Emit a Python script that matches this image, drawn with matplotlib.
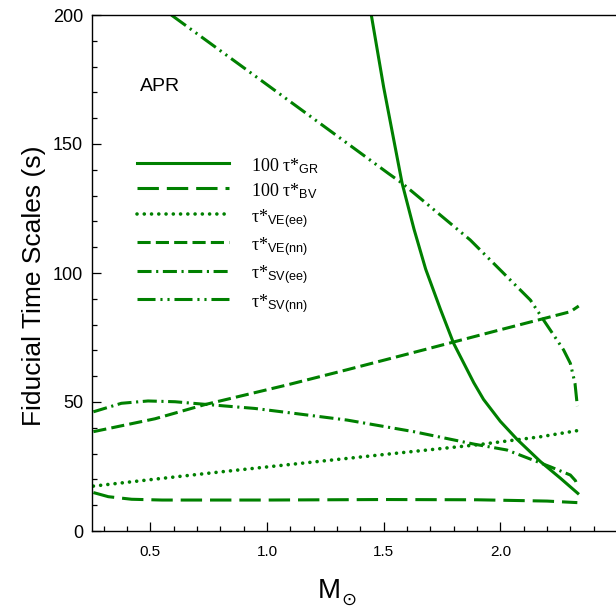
import matplotlib
matplotlib.use("Agg")
import matplotlib.pyplot as plt
from matplotlib.ticker import MultipleLocator, FixedLocator, FormatStrFormatter

# Fiducial time scales versus stellar mass for the APR equation of state
mass_gr = [1.447, 1.50, 1.579, 1.63, 1.68, 1.743, 1.80, 1.886, 1.928, 2.0, 2.072, 2.172, 2.257, 2.332]
tau_gr = [200.0, 172.0, 134.8, 117.0, 101.5, 86.0, 72.7, 57.5, 51.0, 42.5, 35.5, 26.9, 20.5, 14.6]

mass_bv = [0.256, 0.32, 0.42, 0.55, 1.0, 1.5, 1.9, 2.2, 2.33]
tau_bv = [14.9, 13.3, 12.3, 12.0, 12.0, 12.2, 12.1, 11.6, 11.0]

mass_ve_ee = [0.256, 0.52, 0.80, 1.09, 1.486, 1.90, 2.17, 2.33]
tau_ve_ee = [17.4, 20.1, 22.9, 25.7, 29.5, 33.4, 36.5, 38.9]

mass_ve_nn = [0.256, 0.52, 0.734, 1.09, 1.343, 1.671, 2.0, 2.30, 2.336]
tau_ve_nn = [38.5, 43.5, 49.0, 56.7, 62.5, 70.2, 78.0, 85.0, 87.2]

mass_sv_ee = [0.256, 0.376, 0.49, 0.606, 0.734, 0.948, 1.09, 1.343, 1.629, 1.886,
              2.028, 2.214, 2.30, 2.322, 2.33]
tau_sv_ee = [46.2, 49.5, 50.4, 50.1, 49.1, 47.5, 45.9, 43.0, 38.5, 33.7,
             31.4, 24.9, 21.7, 19.5, 17.5]

mass_sv_nn = [0.59, 0.95, 1.23, 1.52, 1.579, 1.871, 2.129, 2.185, 2.214, 2.271,
              2.30, 2.32, 2.33]
tau_sv_nn = [200.0, 176.3, 157.8, 138.6, 134.8, 112.8, 89.5, 81.8, 77.9, 70.2,
             65.0, 57.2, 48.4]

labels = [
    r"$\mathrm{100\ \tau{*}}_{\mathsf{GR}}$",
    r"$\mathrm{100\ \tau{*}}_{\mathsf{BV}}$",
    r"$\mathrm{\tau{*}}_{\mathsf{VE(ee)}}$",
    r"$\mathrm{\tau{*}}_{\mathsf{VE(nn)}}$",
    r"$\mathrm{\tau{*}}_{\mathsf{SV(ee)}}$",
    r"$\mathrm{\tau{*}}_{\mathsf{SV(nn)}}$",
]

plt.rcParams["font.family"] = ["Liberation Sans", "DejaVu Sans"]
plt.rcParams["mathtext.fontset"] = "custom"
plt.rcParams["mathtext.rm"] = "Liberation Serif"
plt.rcParams["mathtext.sf"] = "Liberation Sans"
plt.rcParams["mathtext.it"] = "Liberation Serif:italic"

green = "#008000"
lw = 2.2

fig = plt.figure(figsize=(6.16, 6.08), dpi=100)
ax = fig.add_axes([92 / 616, 77 / 608, 525 / 616, 516 / 608])

ax.plot(mass_gr, tau_gr, color=green, lw=lw, ls="-", label=labels[0])
ax.plot(mass_bv, tau_bv, color=green, lw=lw, ls=(0, (7.0, 2.6)), label=labels[1])
ax.plot(mass_ve_ee, tau_ve_ee, color=green, lw=2.6, ls=(0, (0.01, 2.0)),
        dash_capstyle="round", label=labels[2])
ax.plot(mass_ve_nn, tau_ve_nn, color=green, lw=lw, ls=(0, (4.3, 1.7)), label=labels[3])
ax.plot(mass_sv_ee, tau_sv_ee, color=green, lw=lw, ls=(0, (4.6, 1.5, 0.7, 1.5)),
        label=labels[4])
ax.plot(mass_sv_nn, tau_sv_nn, color=green, lw=lw,
        ls=(0, (5.9, 1.6, 0.7, 1.6, 0.7, 1.6)), label=labels[5])

ax.set_xlim(0.25, 2.5)
ax.set_ylim(0, 200)

ax.xaxis.set_major_locator(FixedLocator([0.5, 1.0, 1.5, 2.0]))
ax.xaxis.set_minor_locator(MultipleLocator(0.1))
ax.xaxis.set_major_formatter(FormatStrFormatter("%.1f"))
ax.yaxis.set_major_locator(MultipleLocator(50))
ax.yaxis.set_minor_locator(MultipleLocator(10))
ax.yaxis.set_major_formatter(FormatStrFormatter("%d"))

ax.tick_params(which="both", direction="in", top=False, right=False, width=0.9)
ax.tick_params(which="major", length=6.5)
ax.tick_params(which="minor", length=3.3)
ax.tick_params(axis="x", pad=10, labelsize=11)
ax.tick_params(axis="y", pad=6.5, labelsize=13)
for side in ("left", "bottom", "top", "right"):
    ax.spines[side].set_linewidth(1.0)

ax.set_ylabel("Fiducial Time Scales (s)", fontsize=19)
ax.yaxis.set_label_coords(-0.088, 0.475)

ax.text(0.451, -0.130, "M", transform=ax.transAxes, fontsize=20,
        ha="center", va="baseline")
ax.text(0.4886, -0.143, "\u2299", transform=ax.transAxes, fontsize=13,
        ha="center", va="baseline", family="DejaVu Sans")

ax.text(0.0914, 0.853, "APR", transform=ax.transAxes, fontsize=14,
        ha="left", va="baseline")

leg = ax.legend(loc="upper left", bbox_to_anchor=(0.085, 0.730), frameon=False,
                fontsize=13, handlelength=5.1, handleheight=1.42,
                handletextpad=1.25, labelspacing=0.235, borderpad=0,
                borderaxespad=0)

fig.savefig("out.png", dpi=100)
